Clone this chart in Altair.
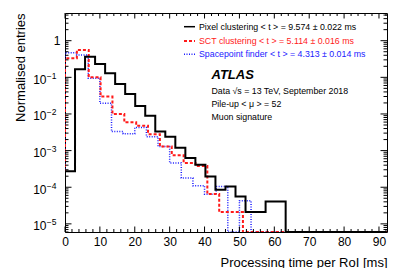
import altair as alt
import pandas as pd

# ---------------- data ----------------
X_MAX = 92.3
Y_MIN, Y_MAX = 6e-6, 5.7

PIXEL_WIDTH = 2.875
PIXEL_VALUES = [2.75e-4, 0.166, 0.366, 0.232, 0.129, 0.066, 0.035, 0.0166,
                0.0089, 0.0033, 0.0024, 0.0012, 6.3e-4, 4.1e-4, 1.96e-4, 8.6e-5,
                1.05e-4, 5.6e-5, 2.1e-5, 2.1e-5, 4.1e-5, 4.1e-5, 0, 0,
                0, 0, 0, 0, 0, 0, 0, 0]
SCT_WIDTH = 3.4
SCT_VALUES = [0.33, 0.56, 0.10, 0.030, 0.010, 0.0059, 0.0048, 0.0028,
              0.0013, 7.5e-4, 4.6e-4, 3.8e-4, 6.5e-5, 2.1e-5, 2.1e-5, 0,
              0, 0, 0, 0, 0, 0, 0, 0, 0, 0, 0, 0]
SP_WIDTH = 10 / 3
SP_VALUES = [0.47, 0.41, 0.095, 0.0195, 0.0033, 0.0029, 0.0043, 0.0024,
             0.0013, 4.6e-4, 1.78e-4, 1.1e-4, 6.4e-5, 1.05e-4, 0, 4.3e-5,
             0, 0, 0, 0, 0, 0, 0, 0, 0, 0, 0, 0]

LEGEND_LABELS = ["Pixel clustering  < t > = 9.574 ± 0.022 ms",
                 "SCT clustering  < t > = 5.114 ± 0.016 ms",
                 "Spacepoint finder  < t > = 4.313 ± 0.014 ms"]
COLORS = ["#000000", "#ff1a1a", "#1a1aff"]
INFO_LINES = ["Data √s = 13 TeV, September 2018", "Pile-up < μ > = 52", "Muon signature"]
X_LABELS = [0, 10, 20, 30, 40, 50, 60, 70, 80, 90]
Y_DECADES = [1e-5, 1e-4, 1e-3, 1e-2, 1e-1]
Y_EXPONENTS = ["−5", "−4", "−3", "−2", "−1"]

W, H = 322, 219
FONT = "Liberation Sans"

xs = alt.Scale(domain=[0, X_MAX], nice=False, zero=False)
ys = alt.Scale(type="log", domain=[Y_MIN, Y_MAX], nice=False)


def steps(width, values):
    rows = [{"t": 0.0, "y": Y_MIN, "i": 0}]
    for k, v in enumerate(values):
        rows.append({"t": k * width, "y": max(v, Y_MIN), "i": k + 1})
    rows.append({"t": len(values) * width, "y": max(values[-1], Y_MIN), "i": len(values) + 1})
    return pd.DataFrame(rows)


x_axis = alt.Axis(values=X_LABELS, labelPadding=4, labelOverlap=False, labelFlush=False,
                  title="Processing time per RoI [ms]", titleAnchor="end",
                  titleAlign="right", titleX=W, titleY=30, titleBaseline="middle")
y_axis = alt.Axis(values=[1.0], labelPadding=5, labelOverlap=False, labelFlush=False,
                  title="Normalised entries", titleAnchor="end",
                  titleAlign="right", titleAngle=270, titleX=-45, titleY=0,
                  titleBaseline="middle")

XE = dict(scale=xs, axis=x_axis)
YE = dict(scale=ys, axis=y_axis)


def hist(width, values, color, dash, sw):
    mk = dict(interpolate="step-after", color=color, strokeWidth=sw, clip=True)
    if dash:
        mk["strokeDash"] = dash
    return alt.Chart(steps(width, values)).mark_line(**mk).encode(
        x=alt.X("t:Q", **XE), y=alt.Y("y:Q", **YE), order="i:Q")


# ticks (inward, ROOT style)
x_major = [float(v) for v in range(0, 91, 10)]
x_minor = [float(v) for v in range(2, 93, 2) if v % 10 != 0]
y_major = Y_DECADES + [1.0]
y_minor = [m * 10.0 ** e for e in range(-6, 1) for m in range(2, 10) if Y_MIN <= m * 10.0 ** e <= Y_MAX]


def xticks(vals, length):
    df = pd.DataFrame({"t": vals})
    b = alt.Chart(df).mark_rule(color="black", strokeWidth=1).encode(
        x=alt.X("t:Q", **XE), y=alt.value(H), y2=alt.value(H - length))
    t = alt.Chart(df).mark_rule(color="black", strokeWidth=1).encode(
        x=alt.X("t:Q", **XE), y=alt.value(0), y2=alt.value(length))
    return [b, t]


def yticks(vals, length):
    df = pd.DataFrame({"y": vals})
    l = alt.Chart(df).mark_rule(color="black", strokeWidth=1).encode(
        y=alt.Y("y:Q", **YE), x=alt.value(0), x2=alt.value(length))
    r = alt.Chart(df).mark_rule(color="black", strokeWidth=1).encode(
        y=alt.Y("y:Q", **YE), x=alt.value(W), x2=alt.value(W - length))
    return [l, r]


layers = []
layers.append(hist(SP_WIDTH, SP_VALUES, COLORS[2], [1, 1.5], 1.5))
layers.append(hist(SCT_WIDTH, SCT_VALUES, COLORS[1], [3, 2], 2))
layers.append(hist(PIXEL_WIDTH, PIXEL_VALUES, COLORS[0], None, 2))
layers += xticks(x_major, 5.5) + xticks(x_minor, 3)
layers += yticks(y_major, 6.5) + yticks(y_minor, 3.5)

# y labels of the form 10^n with real superscripts
dec_df = pd.DataFrame({"y": Y_DECADES, "base": ["10"] * len(Y_DECADES), "exp": Y_EXPONENTS})
layers.append(alt.Chart(dec_df).mark_text(
    align="right", baseline="middle", font=FONT, fontSize=12, color="black", dy=2.5).encode(
    y=alt.Y("y:Q", **YE), x=alt.value(-18.5), text="base:N"))
layers.append(alt.Chart(dec_df).mark_text(
    align="left", baseline="middle", font=FONT, fontSize=8.5, color="black", dy=-1.5).encode(
    y=alt.Y("y:Q", **YE), x=alt.value(-18.3), text="exp:N"))

# legend
row_y = [13.7, 28, 41.3]
dashes = [None, [3, 2], [1, 1.5]]
widths = [1.5, 2, 1.5]
for k in range(3):
    mk = dict(color=COLORS[k], strokeWidth=widths[k])
    if dashes[k]:
        mk["strokeDash"] = dashes[k]
    layers.append(alt.Chart(pd.DataFrame({"a": [0]})).mark_rule(**mk).encode(
        x=alt.value(119), x2=alt.value(130), y=alt.value(row_y[k])))
    layers.append(alt.Chart(pd.DataFrame({"label": [LEGEND_LABELS[k]]})).mark_text(
        align="left", baseline="middle", font=FONT, fontSize=8.8, color=COLORS[k]).encode(
        x=alt.value(134), y=alt.value(row_y[k]), text="label:N"))

layers.append(alt.Chart(pd.DataFrame({"label": ["ATLAS"]})).mark_text(
    align="left", baseline="middle", font=FONT, fontSize=13, fontWeight="bold",
    fontStyle="italic", color="black").encode(
    x=alt.value(146.5), y=alt.value(62), text="label:N"))
info_y = [77.7, 91.3, 104.3]
for k in range(3):
    layers.append(alt.Chart(pd.DataFrame({"label": [INFO_LINES[k]]})).mark_text(
        align="left", baseline="middle", font=FONT, fontSize=8.8, color="black").encode(
        x=alt.value(146.5), y=alt.value(info_y[k]), text="label:N"))

chart = alt.layer(*layers).properties(
    width=W, height=H,
    padding={"left": 57, "top": 5, "right": 12, "bottom": 36},
    autosize=alt.AutoSizeParams(type="none"),
    background="white",
).configure_view(stroke="black", strokeWidth=1).configure_axis(
    ticks=False, domain=False, grid=False, labelOverlap=False,
    labelFont=FONT, labelFontSize=12, labelColor="black",
    titleFont=FONT, titleFontSize=13, titleFontWeight="normal", titleColor="black",
)

chart.save("out.html", embed_options={"renderer": "svg", "actions": False})
